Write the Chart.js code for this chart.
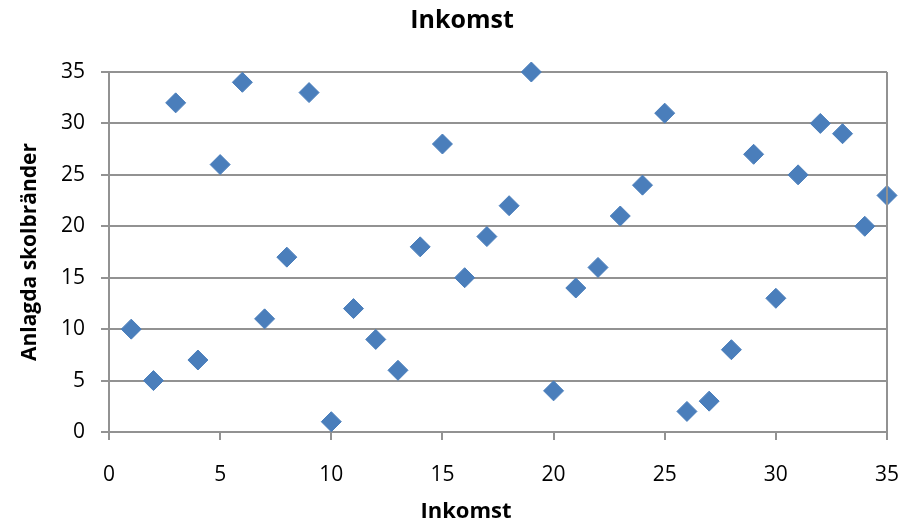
<!DOCTYPE html>
<html>
<head>
<meta charset="utf-8">
<script src="https://cdn.jsdelivr.net/npm/chart.js@4/dist/chart.umd.min.js"></script>
<style>
  html, body { margin: 0; padding: 0; background: #fff; }
  #wrap { width: 905px; height: 526px; }
</style>
</head>
<body>
<div id="wrap"><canvas id="c" width="905" height="526"></canvas></div>
<script>
// Inkomst (x) mot anlagda skolbränder (y)
const inkomst = [1, 2, 3, 4, 5, 6, 7, 8, 9, 10, 11, 12, 13, 14, 15, 16, 17, 18,
  19, 20, 21, 22, 23, 24, 25, 26, 27, 28, 29, 30, 31, 32, 33, 34, 35];
const skolbrander = [10, 5, 32, 7, 26, 34, 11, 17, 33, 1, 12, 9, 6, 18, 28, 15, 19, 22,
  35, 4, 14, 16, 21, 24, 31, 2, 3, 8, 27, 13, 25, 30, 29, 20, 23];
const xTicks = [0, 5, 10, 15, 20, 25, 30, 35];
const yTicks = [0, 5, 10, 15, 20, 25, 30, 35];
const chartTitle = 'Inkomst';
const xTitle = 'Inkomst';

const gridColor = '#929292';
const fontFamily = "'Open Sans', 'Liberation Sans', sans-serif";

// ram på höger sida + titlar (centrerade på hela diagrammet som i Excel)
const extras = {
  id: 'extras',
  afterDraw(chart) {
    const { ctx, chartArea } = chart;
    ctx.save();
    ctx.strokeStyle = gridColor;
    ctx.lineWidth = 2;
    ctx.beginPath();
    ctx.moveTo(chartArea.right, chartArea.top);
    ctx.lineTo(chartArea.right, chartArea.bottom);
    ctx.stroke();
    ctx.fillStyle = '#000';
    ctx.textAlign = 'center';
    ctx.textBaseline = 'middle';
    ctx.font = 'bold 25px ' + fontFamily;
    ctx.fillText(chartTitle, 462, 21);
    ctx.font = 'bold 22px ' + fontFamily;
    ctx.fillText(xTitle, 466, 512);
    ctx.restore();
  }
};

new Chart(document.getElementById('c'), {
  type: 'scatter',
  data: {
    datasets: [{
      data: inkomst.map((x, i) => ({ x, y: skolbrander[i] })),
      backgroundColor: '#4a7ebb',
      borderColor: '#4a7ebb',
      pointStyle: 'rectRot',
      pointRadius: 10,
      pointHoverRadius: 10,
      clip: false,
    }],
  },
  options: {
    responsive: false,
    animation: false,
    layout: { padding: { left: 0, right: 18, top: 72, bottom: 0 } },
    scales: {
      x: {
        type: 'linear',
        min: 0,
        max: 35,
        afterBuildTicks: (s) => { s.ticks = xTicks.map(v => ({ value: v })); },
        afterFit: (s) => { s.height = 94; s.paddingLeft = 0; s.paddingRight = 0; },
        ticks: { color: '#000', font: { family: fontFamily, size: 21 }, padding: 22 },
        grid: { drawOnChartArea: false, drawTicks: true, tickLength: 8, color: gridColor, lineWidth: 2 },
        border: { display: true, color: gridColor, width: 2 },
      },
      y: {
        type: 'linear',
        min: 0,
        max: 35,
        afterBuildTicks: (s) => { s.ticks = yTicks.map(v => ({ value: v })); },
        afterFit: (s) => { s.width = 109; s.paddingTop = 0; s.paddingBottom = 0; },
        ticks: { color: '#000', font: { family: fontFamily, size: 21 }, padding: 16 },
        grid: { color: gridColor, lineWidth: 2, tickLength: 8 },
        border: { display: true, color: gridColor, width: 2 },
        title: {
          display: true,
          text: 'Anlagda skolbränder',
          color: '#000',
          font: { family: fontFamily, size: 21, weight: 'bold' },
          padding: { top: 17, bottom: 0 },
        },
      },
    },
    plugins: {
      legend: { display: false },
      tooltip: { enabled: false },
      title: { display: false },
    },
  },
  plugins: [extras],
});
</script>
</body>
</html>
